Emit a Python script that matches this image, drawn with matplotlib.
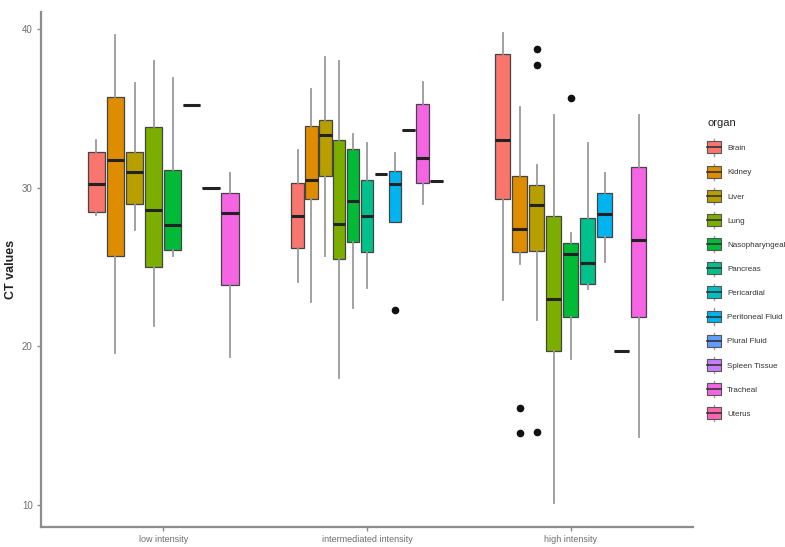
import matplotlib
matplotlib.use('Agg')
import matplotlib.pyplot as plt
from matplotlib.legend_handler import HandlerBase
from matplotlib.patches import Rectangle, Patch
from matplotlib.lines import Line2D

plt.rcParams['font.family'] = ['Liberation Sans', 'DejaVu Sans']

organs = ['Brain', 'Kidney', 'Liver', 'Lung', 'Nasopharyngeal', 'Pancreas',
          'Pericardial', 'Peritoneal Fluid', 'Plural Fluid', 'Spleen Tissue',
          'Tracheal', 'Uterus']
colors = ['#F8766D', '#DE8C00', '#B79F00', '#7CAE00', '#00BA38', '#00C08B',
          '#00BFC4', '#00B4F0', '#619CFF', '#C77CFF', '#F564E3', '#FF64B0']
intensities = ['low intensity', 'intermediated intensity', 'high intensity']

# (lower whisker, Q1, median, Q3, upper whisker) for each organ measured
low_organs = ['Brain', 'Kidney', 'Liver', 'Lung', 'Nasopharyngeal',
              'Pancreas', 'Pericardial', 'Tracheal']
low_stats = [
    (28.3, 28.47, 30.25, 32.23, 33.0),
    (19.56, 25.68, 31.76, 35.70, 39.62),
    (27.33, 29.0, 30.99, 32.23, 36.62),
    (21.29, 24.98, 28.59, 33.82, 38.0),
    (25.72, 26.07, 27.65, 31.12, 36.89),
    (35.23, 35.23, 35.23, 35.23, 35.23),
    (29.96, 29.96, 29.96, 29.96, 29.96),
    (19.31, 23.87, 28.42, 29.68, 30.95),
]
low_fliers = {}

mid_organs = ['Brain', 'Kidney', 'Liver', 'Lung', 'Nasopharyngeal', 'Pancreas',
              'Pericardial', 'Peritoneal Fluid', 'Spleen Tissue', 'Tracheal',
              'Uterus']
mid_stats = [
    (24.08, 26.18, 28.22, 30.32, 32.38),
    (22.82, 29.29, 30.49, 33.89, 36.22),
    (25.70, 30.76, 33.32, 34.25, 38.25),
    (18.01, 25.49, 27.69, 32.99, 37.96),
    (22.40, 26.56, 29.18, 32.44, 33.37),
    (23.66, 25.93, 28.22, 30.49, 32.80),
    (30.84, 30.84, 30.84, 30.84, 30.84),
    (27.86, 27.86, 30.21, 31.07, 32.21),
    (33.64, 33.64, 33.64, 33.64, 33.64),
    (28.97, 30.28, 31.89, 35.29, 36.66),
    (30.40, 30.40, 30.40, 30.40, 30.40),
]
mid_fliers = {'Peritoneal Fluid': [22.29]}

high_organs = ['Brain', 'Kidney', 'Liver', 'Lung', 'Nasopharyngeal',
               'Pancreas', 'Peritoneal Fluid', 'Spleen Tissue', 'Tracheal']
high_stats = [
    (22.95, 29.31, 32.99, 38.40, 39.72),
    (25.20, 25.97, 27.42, 30.72, 35.10),
    (21.69, 26.03, 28.94, 30.15, 31.46),
    (10.15, 19.74, 22.99, 28.20, 34.56),
    (19.19, 21.85, 25.82, 26.51, 27.16),
    (23.60, 23.93, 25.27, 28.07, 32.80),
    (25.34, 26.87, 28.36, 29.65, 30.93),
    (19.74, 19.74, 19.74, 19.74, 19.74),
    (14.27, 21.87, 26.68, 31.28, 34.61),
]
high_fliers = {'Kidney': [16.12, 14.53],
               'Liver': [38.75, 37.71, 14.59],
               'Nasopharyngeal': [35.62]}

groups = [(low_organs, low_stats, low_fliers),
          (mid_organs, mid_stats, mid_fliers),
          (high_organs, high_stats, high_fliers)]

fig = plt.figure(figsize=(7.85, 5.47), dpi=100)
ax = fig.add_axes([0.0522, 0.0371, 0.8306, 0.941])

dodge = 0.75
for gi, (names, stats, fliers) in enumerate(groups):
    n = len(names)
    slot = dodge / n
    for k, (name, s) in enumerate(zip(names, stats)):
        pos = gi + 1 + (k - (n - 1) / 2) * slot
        d = dict(whislo=s[0], q1=s[1], med=s[2], q3=s[3], whishi=s[4],
                 fliers=fliers.get(name, []))
        ax.bxp([d], positions=[pos], widths=slot * 0.9, patch_artist=True,
               showcaps=False, manage_ticks=False,
               boxprops=dict(facecolor=colors[organs.index(name)],
                             edgecolor='#444444', linewidth=0.9),
               whiskerprops=dict(color='#9a9a9a', linewidth=1.3),
               medianprops=dict(color='#222222', linewidth=2.2),
               flierprops=dict(marker='o', markerfacecolor='#111111',
                               markeredgecolor='#111111', markersize=4.5))

ax.set_xlim(0.4, 3.6)
ax.set_ylim(8.64, 41.07)
ax.set_xticks([1, 2, 3])
ax.set_xticklabels(intensities, fontsize=6.5)
ax.set_yticks([10, 20, 30, 40])
ax.set_ylabel('CT values', fontsize=9, fontweight='bold', color='#222222')
ax.yaxis.set_label_coords(-0.037, 0.5)
for side in ['top', 'right']:
    ax.spines[side].set_visible(False)
for side in ['left', 'bottom']:
    ax.spines[side].set_color('#8c8c8c')
    ax.spines[side].set_linewidth(1.6)
ax.tick_params(axis='both', colors='#8c8c8c', labelcolor='#6e6e6e',
               length=3, width=1, pad=3)
ax.tick_params(axis='y', labelsize=7)


class BoxKey(HandlerBase):
    # small boxplot glyph for the legend keys, centred on the label
    def create_artists(self, legend, orig, xd, yd, w, h, fontsize, trans):
        cx = xd + w / 2
        cy = yd + h / 2
        bw = w
        bh = 8.6
        half = 5.8
        box = Rectangle((cx - bw / 2, cy - bh / 2), bw, bh,
                        facecolor=orig.get_facecolor(), edgecolor='#555555',
                        linewidth=0.8, transform=trans)
        med = Line2D([cx - bw / 2, cx + bw / 2], [cy, cy],
                     color='#333333', linewidth=1.2, transform=trans)
        w1 = Line2D([cx, cx], [cy - half, cy - bh / 2], color='#9a9a9a',
                    linewidth=1, transform=trans)
        w2 = Line2D([cx, cx], [cy + bh / 2, cy + half], color='#9a9a9a',
                    linewidth=1, transform=trans)
        return [w1, w2, box, med]


handles = [Patch(facecolor=c) for c in colors]
leg = fig.legend(handles, organs, loc='center left',
                 bbox_to_anchor=(700 / 785, 0.51), frameon=False,
                 title='organ', alignment='left', fontsize=5.8,
                 title_fontsize=8, handlelength=1.65, handleheight=0.7,
                 handletextpad=0.8, labelspacing=2.05,
                 handler_map={Patch: BoxKey()})
for t in leg.get_texts():
    t.set_color('#333333')
leg.get_title().set_color('#222222')

fig.savefig('out.png', dpi=100)
